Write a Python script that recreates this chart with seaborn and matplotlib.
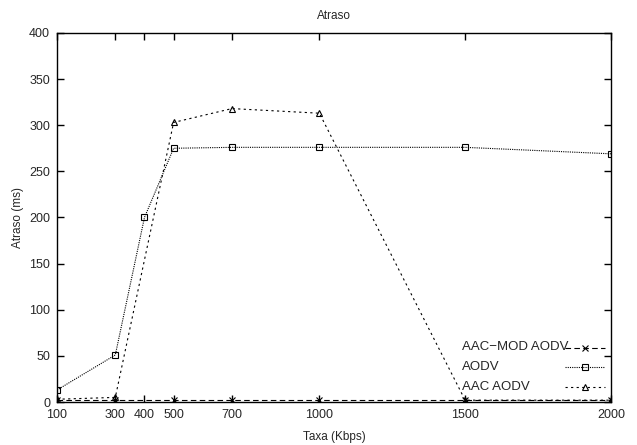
import pandas as pd
import numpy as np
import matplotlib
matplotlib.use('Agg')
import matplotlib.pyplot as plt
import seaborn as sns

# dados
taxa_mod = [100, 300, 500, 700, 1000, 1500, 2000]
atraso_mod = [2, 2, 2, 2, 2, 2, 2]
taxa_aodv = [100, 300, 400, 500, 700, 1000, 1500, 2000]
atraso_aodv = [13, 51, 200, 275, 276, 276, 276, 269]
taxa_aac = [100, 300, 500, 700, 1000, 1500, 2000]
atraso_aac = [3, 5, 303, 318, 313, 2, 2]
xticks = [100, 300, 400, 500, 700, 1000, 1500, 2000]
nomes = ['AAC\u2212MOD AODV', 'AODV', 'AAC AODV']

series = [(taxa_mod, atraso_mod), (taxa_aodv, atraso_aodv), (taxa_aac, atraso_aac)]
estilos = [(5, 3), (1, 1), (2, 3)]
marcas = ['x', 's', '^']

sns.set_style('ticks')
plt.rcParams['font.family'] = ['Liberation Sans', 'DejaVu Sans']

fig = plt.figure(figsize=(6.37, 4.45), dpi=100)
ax = fig.add_axes([0.0895, 0.0966, 0.8695, 0.8294])

handles = []
for (tx, at), d, m in zip(series, estilos, marcas):
    df = pd.DataFrame({'Taxa': tx, 'Atraso': at})
    sns.lineplot(data=df, x='Taxa', y='Atraso', color='black', dashes=False,
                 marker=m, markersize=5, markerfacecolor='none',
                 markeredgecolor='black', markeredgewidth=0.8, linewidth=0.8,
                 ax=ax, legend=False)
    ln = ax.lines[-1]
    ln.set_dashes(d)
    h, = ax.plot([], [], color='black', linewidth=0.8, dashes=d,
                 marker=m, markersize=5, markerfacecolor='none',
                 markeredgewidth=0.8)
    handles.append(h)

ax.set_xlim(100, 2000)
ax.set_ylim(0, 400)
ax.set_xticks(xticks)
ax.set_yticks(np.arange(0, 401, 50))
ax.tick_params(direction='in', top=True, right=True, length=5, width=1,
               labelsize=9, color='black', pad=5)
for s in ax.spines.values():
    s.set_linewidth(1)
    s.set_color('black')
ax.set_title('Atraso', fontsize=8.5, pad=10)
ax.set_xlabel('Taxa (Kbps)', fontsize=8.5, labelpad=7)
ax.set_ylabel('Atraso (ms)', fontsize=8.5, labelpad=4)

# legenda estilo gnuplot: texto a esquerda, amostra a direita
ax.legend(handles, ['', '', ''], loc='lower right', bbox_to_anchor=(1.01, -0.012),
          frameon=False, handlelength=3.0, handletextpad=0, labelspacing=0.55,
          fontsize=9.5)
for i, n in enumerate(nomes):
    ax.text(0.731, [0.149, 0.095, 0.041][i], n, transform=ax.transAxes,
            fontsize=9.5, va='center', ha='left')

fig.savefig('out.png', dpi=100)
